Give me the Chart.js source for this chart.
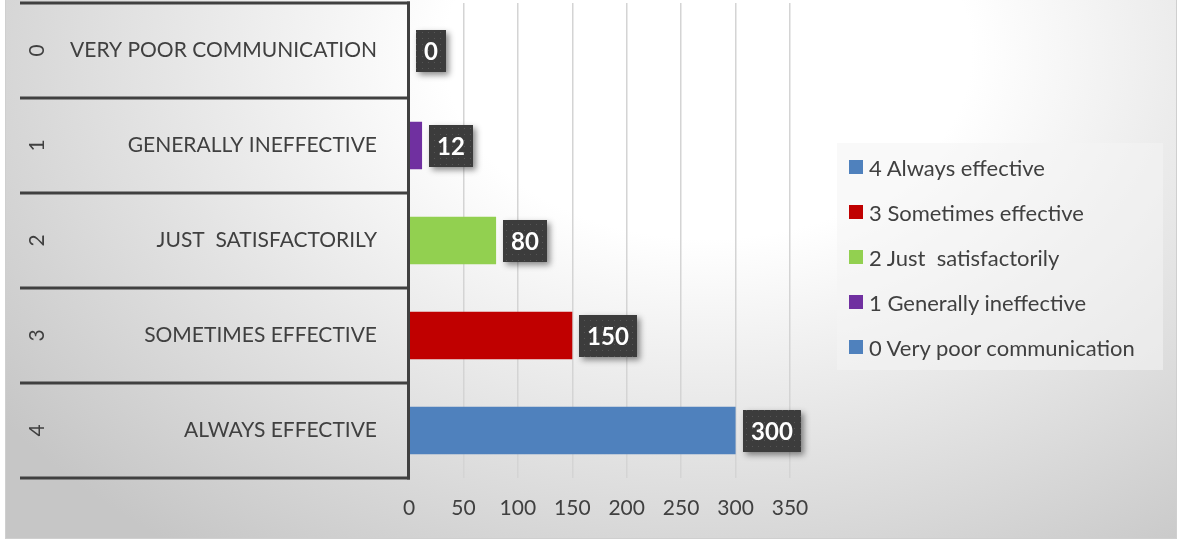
<!DOCTYPE html>
<html>
<head>
<meta charset="utf-8">
<script src="https://cdn.jsdelivr.net/npm/chart.js@4.4.1/dist/chart.umd.min.js"></script>
<style>
  html, body { margin: 0; padding: 0; background: #fff; }
  body { width: 1179px; height: 543px; position: relative; overflow: hidden; font-family: Lato, sans-serif; }
  #frame {
    position: absolute; left: 5px; top: -2px; width: 1172px; height: 541px;
    border: 1px solid #cfcfcf; box-sizing: border-box;
    background: radial-gradient(ellipse 75% 115% at 60% 10%, #ffffff 0%, #ffffff 30%, #c6c6c6 100%);
  }
  #chart-wrap { position: absolute; left: 0; top: 0; width: 1179px; height: 543px; }
  #legend {
    position: absolute; left: 837px; top: 143px; width: 326px; height: 227px;
    background: rgba(244, 244, 244, 0.55);
  }
  .legend-item {
    position: absolute; left: 12px; height: 24px; display: flex; align-items: center;
    font-size: 22px; color: #404040; white-space: pre;
  }
  .legend-swatch { width: 14px; height: 14px; margin-right: 6px; }
</style>
</head>
<body>
<div id="frame"></div>
<div id="chart-wrap"><canvas id="chart" width="1179" height="543"></canvas></div>
<div id="legend"></div>
<script>
// Category codes and names (top to bottom)
const categoryCodes = ['0', '1', '2', '3', '4'];
const categoryNames = ['VERY POOR COMMUNICATION', 'GENERALLY INEFFECTIVE', 'JUST  SATISFACTORILY', 'SOMETIMES EFFECTIVE', 'ALWAYS EFFECTIVE'];

// Number of responses per category
const responseCounts = [0, 12, 80, 150, 300];
const barColors = ['#4F81BD', '#7030A0', '#92D050', '#C00000', '#4F81BD'];

// Legend entries (as shown, top to bottom)
const legendLabels = ['4 Always effective', '3 Sometimes effective', '2 Just  satisfactorily', '1 Generally ineffective', '0 Very poor communication'];
const legendColors = ['#4F81BD', '#C00000', '#92D050', '#7030A0', '#4F81BD'];

// Value axis
const axisMin = 0;
const axisMax = 350;
const axisStep = 50;

const textColor = '#404040';

// Two-level category axis drawn on the left
const categoryAxisPlugin = {
    id: 'categoryAxis',
    afterDatasetsDraw(chart) {
        const ctx = chart.ctx;
        const area = chart.chartArea;
        const yScale = chart.scales.y;
        const n = categoryNames.length;
        const band = (area.bottom - area.top) / n;

        ctx.save();
        ctx.strokeStyle = '#404040';
        ctx.lineWidth = 3;
        for (let i = 0; i <= n; i++) {
            const yy = Math.round(area.top + i * band);
            ctx.beginPath();
            ctx.moveTo(20, yy);
            ctx.lineTo(area.left + 1, yy);
            ctx.stroke();
        }
        ctx.beginPath();
        ctx.moveTo(area.left - 0.5, area.top - 1.5);
        ctx.lineTo(area.left - 0.5, area.bottom + 1.5);
        ctx.stroke();

        ctx.fillStyle = textColor;
        ctx.font = '21px Lato';
        ctx.textBaseline = 'middle';
        categoryNames.forEach((name, i) => {
            const cy = yScale.getPixelForValue(i);
            ctx.textAlign = 'right';
            ctx.fillText(name, 377, cy);
            ctx.save();
            ctx.translate(37, cy);
            ctx.rotate(-Math.PI / 2);
            ctx.textAlign = 'center';
            ctx.fillText(categoryCodes[i], 0, 0);
            ctx.restore();
        });
        ctx.restore();
    }
};

// Dark boxed value labels
const valueLabelPlugin = {
    id: 'valueLabels',
    afterDatasetsDraw(chart) {
        const ctx = chart.ctx;
        const meta = chart.getDatasetMeta(0);

        const tile = document.createElement('canvas');
        tile.width = 6; tile.height = 6;
        const tctx = tile.getContext('2d');
        tctx.fillStyle = '#3c3c3c';
        tctx.fillRect(0, 0, 6, 6);
        tctx.fillStyle = '#565656';
        tctx.fillRect(2, 2, 1, 1);
        const pattern = ctx.createPattern(tile, 'repeat');

        ctx.save();
        ctx.font = 'bold 24px Lato';
        meta.data.forEach((bar, i) => {
            const txt = String(responseCounts[i]);
            const w = Math.round(ctx.measureText(txt).width + 16);
            const h = 42;
            const x0 = Math.round(bar.x + 7);
            const y0 = Math.round(bar.y - h / 2);

            ctx.shadowColor = 'rgba(0,0,0,0.45)';
            ctx.shadowBlur = 6;
            ctx.shadowOffsetX = 3;
            ctx.shadowOffsetY = 3;
            ctx.fillStyle = '#3c3c3c';
            ctx.fillRect(x0, y0, w, h);
            ctx.shadowColor = 'transparent';
            ctx.fillStyle = pattern;
            ctx.fillRect(x0, y0, w, h);

            ctx.fillStyle = '#ffffff';
            ctx.textAlign = 'center';
            ctx.textBaseline = 'middle';
            ctx.fillText(txt, x0 + w / 2, y0 + h / 2 + 1);
        });
        ctx.restore();
    }
};

function buildLegend() {
    const box = document.getElementById('legend');
    legendLabels.forEach((label, i) => {
        const item = document.createElement('div');
        item.className = 'legend-item';
        item.style.top = (12 + i * 45) + 'px';
        const sw = document.createElement('span');
        sw.className = 'legend-swatch';
        sw.style.background = legendColors[i];
        const tx = document.createElement('span');
        tx.textContent = label;
        item.appendChild(sw);
        item.appendChild(tx);
        box.appendChild(item);
    });
}

function initChart() {
    const ctx = document.getElementById('chart').getContext('2d');
    new Chart(ctx, {
        type: 'bar',
        data: {
            labels: categoryNames,
            datasets: [{
                data: responseCounts,
                backgroundColor: barColors,
                barPercentage: 0.5,
                categoryPercentage: 1.0
            }]
        },
        options: {
            indexAxis: 'y',
            responsive: false,
            animation: false,
            layout: {
                padding: { left: 409, right: 389, top: 3, bottom: 0 }
            },
            plugins: {
                legend: { display: false },
                tooltip: { enabled: false }
            },
            scales: {
                y: {
                    display: false
                },
                x: {
                    min: axisMin,
                    max: axisMax,
                    ticks: {
                        stepSize: axisStep,
                        color: '#404040',
                        font: { family: 'Lato', size: 21 },
                        padding: 18
                    },
                    grid: {
                        color: '#d4d4d4',
                        lineWidth: 1.5,
                        drawTicks: false
                    },
                    border: { display: false },
                    afterFit(scale) {
                        scale.height = 65;
                    }
                }
            }
        },
        plugins: [categoryAxisPlugin, valueLabelPlugin]
    });
}

document.addEventListener('DOMContentLoaded', function() {
    buildLegend();
    initChart();
});
</script>
</body>
</html>
